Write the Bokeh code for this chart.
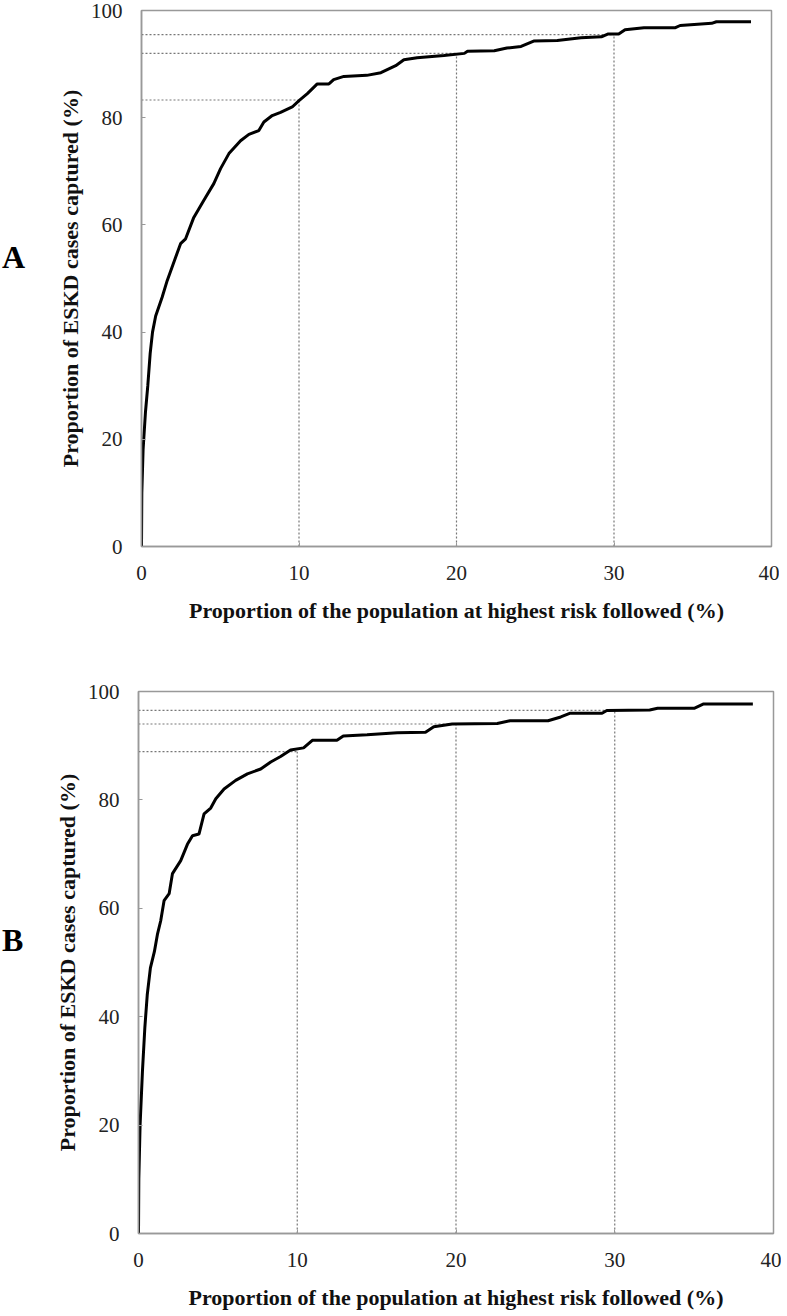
from bokeh.plotting import figure
from bokeh.layouts import column, row
from bokeh.models import Range1d, FixedTicker, Div
from bokeh.embed import file_html
from bokeh.resources import INLINE

# ---- data ----
a_x = [0, 0.02, 0.1, 0.25, 0.4, 0.55, 0.7, 0.9, 1.31, 1.63, 2.48, 2.80, 3.32, 3.96, 4.59, 5.02,
       5.55, 6.29, 6.82, 7.45, 7.77, 8.30, 8.83, 9.57, 10.0, 10.53, 11.16, 11.9, 12.2, 12.85,
       14.3, 15.2, 16.14, 16.66, 17.5, 19.2, 20.5, 20.7, 22.4, 23.2, 24.1, 24.9, 26.4, 27.9,
       29.2, 29.6, 30.3, 30.7, 31.9, 33.9, 34.2, 36.2, 36.5, 38.7]
a_y = [0, 10, 18, 25, 30, 36, 40, 43, 46.5, 49.6, 56.5, 57.4, 61.4, 64.6, 67.7, 70.5,
       73.3, 75.7, 76.9, 77.6, 79.2, 80.4, 81.0, 82.0, 83.2, 84.5, 86.3, 86.3, 87.1, 87.7,
       87.9, 88.4, 89.7, 90.8, 91.2, 91.6, 92.0, 92.4, 92.5, 93.0, 93.3, 94.3, 94.4, 94.9,
       95.1, 95.6, 95.6, 96.4, 96.8, 96.8, 97.2, 97.6, 97.9, 97.9]

b_x = [0, 0.02, 0.1, 0.25, 0.4, 0.55, 0.75, 1.0, 1.2, 1.4, 1.61, 1.93, 2.14, 2.66, 3.08, 3.4,
       3.81, 4.13, 4.55, 4.87, 5.39, 6.12, 6.86, 7.70, 8.33, 8.95, 9.58, 10.4, 10.95, 12.5,
       12.9, 14.4, 16.3, 18.08, 18.6, 19.76, 22.6, 23.4, 25.8, 26.6, 27.2, 29.2, 29.5, 32.2,
       32.7, 35.0, 35.6, 38.7]
b_y = [0, 10, 20, 30, 38, 44, 49, 52, 55.3, 57.7, 61.4, 62.7, 66.4, 68.8, 71.8, 73.4,
       73.7, 77.4, 78.5, 80.2, 82.0, 83.6, 84.8, 85.7, 87.0, 88.0, 89.2, 89.6, 91.0, 91.0,
       91.8, 92.0, 92.4, 92.5, 93.5, 94.0, 94.1, 94.6, 94.6, 95.3, 96.0, 96.0, 96.5, 96.6,
       96.9, 96.9, 97.7, 97.7]

cut_x = [10, 20, 30]
a_cut_y = [83.3, 92.0, 95.5]
b_cut_y = [88.9, 94.0, 96.5]

x_ticks = [0, 10, 20, 30, 40]
y_ticks = [0, 20, 40, 60, 80, 100]

x_title = "Proportion of the population at highest risk followed (%)"
y_title = "Proportion of ESKD cases captured (%)"
panel_letters = ["A", "B"]

SERIF = "Liberation Serif"
GRAY = "#999999"


def make_panel(xs, ys, cy, fw, fh, left, top, bottom):
    p = figure(frame_width=fw, frame_height=fh, min_border_left=left, min_border_right=8,
               min_border_top=top, min_border_bottom=bottom,
               x_range=Range1d(0, 40), y_range=Range1d(0, 100),
               output_backend="svg", toolbar_location=None, margin=0)
    p.xgrid.visible = False
    p.ygrid.visible = False
    p.outline_line_color = GRAY
    p.outline_line_width = 1.5
    for ax, ticks in ((p.xaxis[0], x_ticks), (p.yaxis[0], y_ticks)):
        ax.ticker = FixedTicker(ticks=ticks)
        ax.axis_line_color = GRAY
        ax.axis_line_width = 1.5
        ax.major_tick_in = 4
        ax.major_tick_out = 0
        ax.major_tick_line_color = GRAY
        ax.minor_tick_line_color = None
        ax.major_label_text_font = SERIF
        ax.major_label_text_font_size = "21px"
        ax.major_label_text_color = "#222222"
        ax.axis_label_text_font = SERIF
        ax.axis_label_text_font_style = "bold"
        ax.axis_label_text_font_size = "22px"
        ax.axis_label_text_color = "#111111"
    p.xaxis.axis_label = x_title
    p.yaxis.axis_label = y_title
    p.xaxis.major_label_standoff = 19
    p.xaxis.axis_label_standoff = 15
    p.yaxis.major_label_standoff = 19
    p.yaxis.axis_label_standoff = 5

    # reference dotted lines
    p.segment(x0=[0] * len(cut_x), y0=cy, x1=cut_x, y1=cy,
              line_color="#777777", line_width=1.2, line_dash="2 2")
    p.segment(x0=cut_x, y0=[0] * len(cut_x), x1=cut_x, y1=cy,
              line_color="#777777", line_width=1.2, line_dash="2 2")

    p.line(xs, ys, line_color="black", line_width=3)
    return p


def letter_div(letter, h, top):
    html = ('<div style="margin-top:%dpx;margin-left:2px;font-family:\'Liberation Serif\';'
            'font-weight:bold;font-size:32px;line-height:32px;color:black;">%s</div>' % (top, letter))
    return Div(text=html, width=30, height=h, margin=0)


pa = make_panel(a_x, a_y, a_cut_y, 630, 536, 111, 10, 100)
pb = make_panel(b_x, b_y, b_cut_y, 635, 542, 108, 45, 75)

layout = column(row(letter_div(panel_letters[0], 646, 241), pa, margin=0, spacing=0),
                row(letter_div(panel_letters[1], 662, 278), pb, margin=0, spacing=0),
                margin=0, spacing=0)
open("out.html", "w").write(file_html(layout, INLINE))
